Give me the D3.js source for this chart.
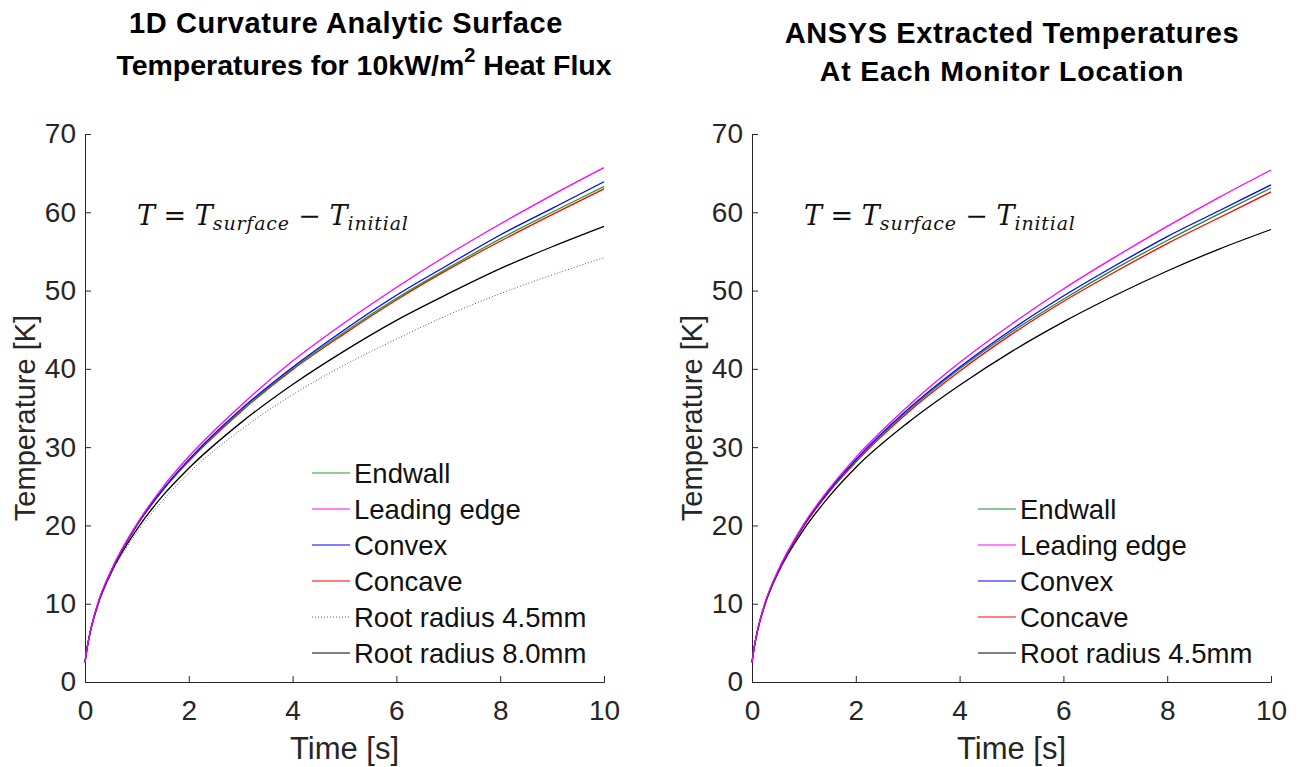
<!DOCTYPE html>
<html>
<head>
<meta charset="utf-8">
<script src="https://cdn.jsdelivr.net/npm/d3@7"></script>
<style>
  body { margin: 0; background: #fff; }
  svg { font-family: "Liberation Sans", Arial, sans-serif; }
</style>
</head>
<body>
<svg id="chart" width="1301" height="767"></svg>
<script>
// time samples [s]
const time = [0, 0.05, 0.1, 0.25, 0.5, 1, 1.5, 2, 3, 4, 5, 6, 7, 8, 9, 10];

// left panel: 1D curvature analytic temperatures [K]
const leftEndwall  = [2.5, 4.7, 6.4, 10.0, 14.1, 20.0, 24.5, 28.3, 34.6, 40.0, 44.7, 49.0, 52.9, 56.6, 60.0, 63.3];
const leftLeading  = [2.5, 4.7, 6.4, 10.1, 14.2, 20.2, 24.9, 28.8, 35.3, 41.0, 45.9, 50.4, 54.6, 58.5, 62.2, 65.7];
const leftConvex   = [2.5, 4.7, 6.4, 10.0, 14.1, 20.1, 24.6, 28.4, 34.8, 40.2, 45.0, 49.4, 53.3, 57.1, 60.5, 63.9];
const leftConcave  = [2.5, 4.7, 6.4, 10.0, 14.1, 20.0, 24.5, 28.2, 34.5, 39.9, 44.5, 48.8, 52.7, 56.3, 59.7, 63.0];
const leftRoot45   = [2.5, 4.6, 6.3, 9.8, 13.7, 19.1, 23.2, 26.7, 32.2, 36.7, 40.5, 43.8, 46.9, 49.6, 52.0, 54.2];
const leftRoot80   = [2.5, 4.7, 6.3, 9.9, 13.9, 19.5, 23.8, 27.3, 33.1, 38.0, 42.3, 46.2, 49.6, 52.8, 55.6, 58.2];

// right panel: ANSYS extracted temperatures [K]
const rightEndwall = [2.5, 4.7, 6.4, 10.0, 14.1, 20.0, 24.5, 28.3, 34.6, 40.0, 44.7, 48.9, 52.8, 56.4, 59.8, 63.1];
const rightLeading = [2.5, 4.7, 6.4, 10.1, 14.2, 20.2, 24.8, 28.7, 35.2, 40.8, 45.7, 50.2, 54.3, 58.2, 61.9, 65.4];
const rightConvex  = [2.5, 4.7, 6.4, 10.0, 14.1, 20.1, 24.6, 28.4, 34.8, 40.2, 45.0, 49.3, 53.2, 56.9, 60.2, 63.5];
const rightConcave = [2.5, 4.7, 6.4, 10.0, 14.0, 19.9, 24.4, 28.1, 34.4, 39.7, 44.4, 48.6, 52.4, 56.0, 59.3, 62.6];
const rightRoot45  = [2.5, 4.7, 6.3, 9.9, 13.9, 19.5, 23.8, 27.4, 33.1, 37.9, 42.2, 46.0, 49.4, 52.5, 55.3, 57.8];

const xTicks = [0, 2, 4, 6, 8, 10];
const yTicks = [0, 10, 20, 30, 40, 50, 60, 70];

const panels = [
  {
    x0: 85, x1: 604,
    title: ["1D Curvature Analytic Surface", "Temperatures for 10kW/m", "2", " Heat Flux"],
    titleX: [346, 364], titleY: [33, 75],
    legendX: 312, legendY: 473,
    series: [
      { name: "Endwall", values: leftEndwall, color: "#22a022" },
      { name: "Leading edge", values: leftLeading, color: "#ff00ff" },
      { name: "Convex", values: leftConvex, color: "#0000ff" },
      { name: "Concave", values: leftConcave, color: "#ff0000" },
      { name: "Root radius 4.5mm", values: leftRoot45, color: "#555", dash: "1,2" },
      { name: "Root radius 8.0mm", values: leftRoot80, color: "#000" }
    ],
    drawOrder: [5, 4, 3, 0, 2, 1]
  },
  {
    x0: 752, x1: 1271,
    title: ["ANSYS Extracted Temperatures", "At Each Monitor Location"],
    titleX: [1012, 1002], titleY: [43, 81],
    legendX: 978, legendY: 509,
    series: [
      { name: "Endwall", values: rightEndwall, color: "#138a3c" },
      { name: "Leading edge", values: rightLeading, color: "#ff00ff" },
      { name: "Convex", values: rightConvex, color: "#0000ff" },
      { name: "Concave", values: rightConcave, color: "#ff0000" },
      { name: "Root radius 4.5mm", values: rightRoot45, color: "#000" }
    ],
    drawOrder: [4, 3, 0, 2, 1]
  }
];

const svg = d3.select("#chart");
const yTop = 134, yBottom = 682;
const yScale = d3.scaleLinear().domain([0, 70]).range([yBottom, yTop]);

panels.forEach(p => {
  const xScale = d3.scaleLinear().domain([0, 10]).range([p.x0, p.x1]);
  const g = svg.append("g");

  // title
  g.append("text").attr("x", p.titleX[0]).attr("y", p.titleY[0])
    .attr("text-anchor", "middle").attr("font-size", 29).attr("font-weight", "bold")
    .attr("letter-spacing", 0.6)
    .text(p.title[0]);
  const t2 = g.append("text").attr("x", p.titleX[1]).attr("y", p.titleY[1])
    .attr("text-anchor", "middle").attr("font-size", 28.5).attr("font-weight", "bold")
    .attr("letter-spacing", p.title.length > 2 ? 0 : 0.8);
  t2.append("tspan").text(p.title[1]);
  if (p.title.length > 2) {
    t2.append("tspan").attr("dy", -13).attr("font-size", 20).text(p.title[2]);
    t2.append("tspan").attr("dy", 13).text(p.title[3]);
  }

  // axes (MATLAB-like, ticks inside, no box)
  const xAxis = d3.axisBottom(xScale).tickValues(xTicks).tickSize(-6).tickPadding(18).tickFormat(d3.format("d"));
  const yAxis = d3.axisLeft(yScale).tickValues(yTicks).tickSize(-6).tickPadding(9).tickFormat(d3.format("d"));

  const gx = g.append("g").attr("transform", `translate(0,${yBottom})`).call(xAxis);
  const gy = g.append("g").attr("transform", `translate(${p.x0},0)`).call(yAxis);
  [gx, gy].forEach(a => {
    a.select(".domain").attr("stroke", "#262626").attr("stroke-width", 1);
    a.selectAll(".tick line").attr("stroke", "#262626");
    a.selectAll(".tick text").attr("font-size", 28).attr("fill", "#262626")
      .attr("font-family", "Liberation Sans, Arial, sans-serif");
  });

  // axis labels
  g.append("text").attr("x", (p.x0 + p.x1) / 2).attr("y", 759)
    .attr("text-anchor", "middle").attr("font-size", 31).attr("fill", "#262626")
    .text("Time [s]");
  g.append("text")
    .attr("transform", `translate(${p.x0 - 50},${(yTop + yBottom) / 2 + 10}) rotate(-90)`)
    .attr("text-anchor", "middle").attr("font-size", 29).attr("fill", "#262626")
    .text("Temperature [K]");

  // formula
  const f = g.append("text").attr("x", p.x0 + 52).attr("y", 225)
    .attr("font-family", "DejaVu Serif, Liberation Serif, serif").attr("font-size", 27)
    .attr("fill", "#111");
  f.append("tspan").attr("font-style", "italic").text("T");
  f.append("tspan").text(" = ");
  f.append("tspan").attr("font-style", "italic").text("T");
  f.append("tspan").attr("font-style", "italic").attr("font-size", 19).attr("dy", 5).attr("letter-spacing", 0.8).text("surface");
  f.append("tspan").attr("dy", -5).text(" \u2212 ");
  f.append("tspan").attr("font-style", "italic").text("T");
  f.append("tspan").attr("font-style", "italic").attr("font-size", 19).attr("dy", 5).attr("letter-spacing", 0.8).text("initial");

  // lines
  const line = d3.line()
    .x((d, i) => xScale(time[i]))
    .y(d => yScale(d))
    .curve(d3.curveMonotoneX);

  p.drawOrder.forEach(i => {
    const s = p.series[i];
    g.append("path").datum(s.values)
      .attr("d", line)
      .attr("fill", "none")
      .attr("stroke", s.color)
      .attr("stroke-width", s.dash ? 1 : 1.3)
      .attr("stroke-dasharray", s.dash || null);
  });

  // legend
  const lg = g.append("g").attr("transform", `translate(${p.legendX},${p.legendY})`);
  p.series.forEach((s, i) => {
    const row = lg.append("g").attr("transform", `translate(0,${i * 36})`);
    row.append("line").attr("x1", 0).attr("x2", 38).attr("y1", 0).attr("y2", 0)
      .attr("stroke", s.color).attr("stroke-width", 1.2)
      .attr("stroke-dasharray", s.dash || null);
    row.append("text").attr("x", 42).attr("y", 0).attr("dy", "0.36em")
      .attr("font-size", 27.5).attr("fill", "#111").text(s.name);
  });
});
</script>
</body>
</html>
